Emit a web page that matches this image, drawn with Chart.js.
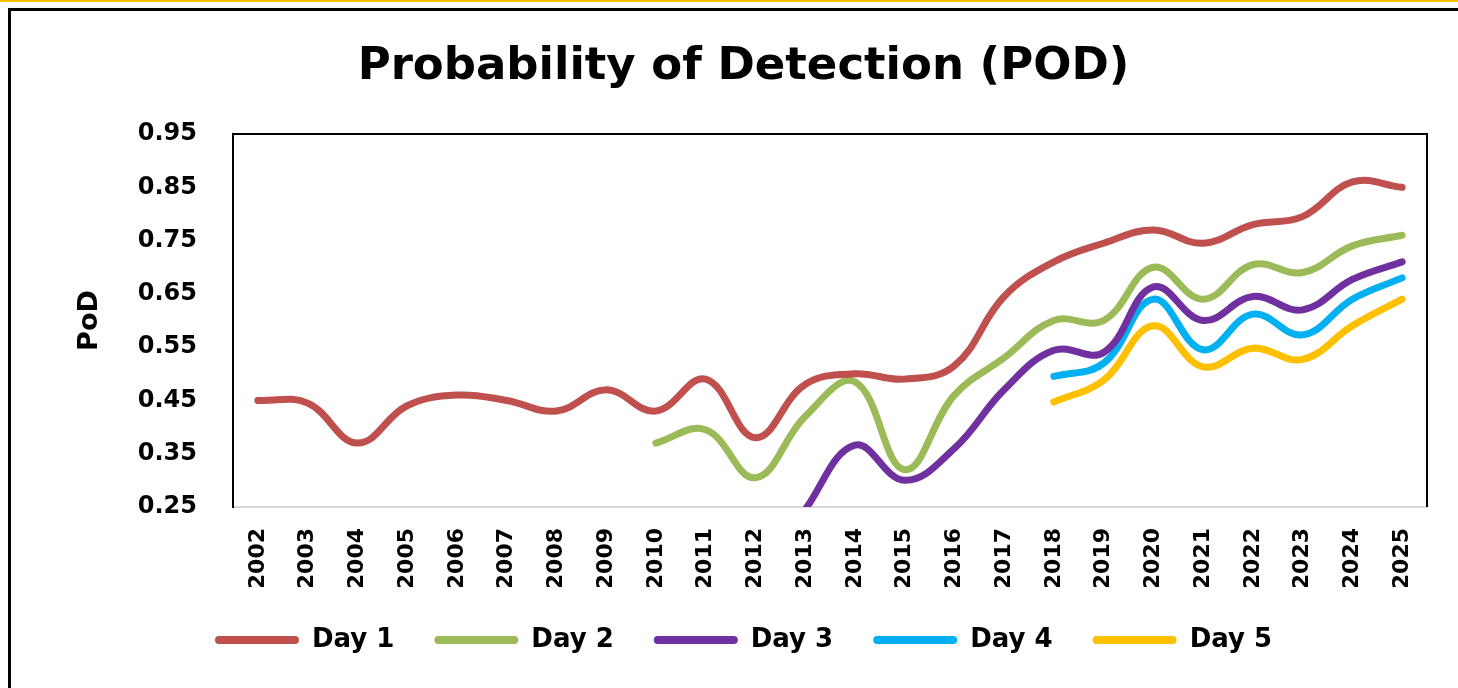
<!DOCTYPE html>
<html>
<head>
<meta charset="utf-8">
<script src="https://cdn.jsdelivr.net/npm/chart.js@4.4.1/dist/chart.umd.min.js"></script>
<style>
  html, body { margin: 0; padding: 0; background: #fff; }
  body { width: 1458px; height: 688px; position: relative; overflow: hidden; }
  #topline { position: absolute; left: 0; top: 0; width: 1458px; height: 2px; background: #f5c400; }
  #frame {
    position: absolute; left: 8px; top: 8px; width: 1460px; height: 677px;
    border-left: 3px solid #000; border-top: 3px solid #000; border-bottom: 2px solid #cfcfcf;
  }
  #pod-chart { position: absolute; left: 0; top: 0; }
</style>
</head>
<body>
<div id="topline"></div>
<div id="frame"></div>
<canvas id="pod-chart" width="1458" height="688"></canvas>
<script>
const years = ["2002", "2003", "2004", "2005", "2006", "2007", "2008", "2009", "2010", "2011", "2012", "2013",
  "2014", "2015", "2016", "2017", "2018", "2019", "2020", "2021", "2022", "2023", "2024", "2025"];

const day1 = [0.45, 0.445, 0.37, 0.44, 0.46, 0.45, 0.43, 0.47, 0.43, 0.49, 0.38, 0.48,
  0.50, 0.49, 0.515, 0.645, 0.71, 0.745, 0.77, 0.745, 0.78, 0.795, 0.86, 0.85];

const day2 = [null, null, null, null, null, null, null, null, 0.37, 0.395, 0.305, 0.42,
  0.485, 0.32, 0.46, 0.53, 0.60, 0.60, 0.70, 0.64, 0.705, 0.69, 0.74, 0.76];

// 2012 point sits below the axis minimum, only the rising part is visible
const day3 = [null, null, null, null, null, null, null, null, null, null, 0.11, 0.245,
  0.366, 0.30, 0.36, 0.47, 0.544, 0.54, 0.663, 0.60, 0.645, 0.62, 0.677, 0.71];

const day4 = [null, null, null, null, null, null, null, null, null, null, null, null,
  null, null, null, null, 0.495, 0.52, 0.64, 0.545, 0.612, 0.573, 0.64, 0.68];

const day5 = [null, null, null, null, null, null, null, null, null, null, null, null,
  null, null, null, null, 0.447, 0.488, 0.59, 0.513, 0.548, 0.527, 0.59, 0.64];

const yTicks = [0.25, 0.35, 0.45, 0.55, 0.65, 0.75, 0.85, 0.95];

const FONT = "'DejaVu Sans', sans-serif";

function makeSeries(label, data, color) {
  return {
    label: label,
    data: data,
    borderColor: color,
    backgroundColor: color,
    borderWidth: 7,
    borderCapStyle: "round",
    borderJoinStyle: "round",
    tension: 0.4,
    pointRadius: 0,
    pointHoverRadius: 0,
    spanGaps: false,
    fill: false,
  };
}

// top and right edges of the plot box
const plotFrame = {
  id: "plotFrame",
  afterDraw(chart) {
    const { ctx, chartArea: a } = chart;
    ctx.save();
    ctx.strokeStyle = "#000";
    ctx.lineWidth = 2;
    ctx.beginPath();
    ctx.moveTo(a.left, a.top);
    ctx.lineTo(a.right, a.top);
    ctx.lineTo(a.right, a.bottom);
    ctx.stroke();
    ctx.restore();
  },
};

const ctx = document.getElementById("pod-chart").getContext("2d");
new Chart(ctx, {
  type: "line",
  data: {
    labels: years,
    datasets: [
      makeSeries("Day 1", day1, "#c0504d"),
      makeSeries("Day 2", day2, "#9bbb59"),
      makeSeries("Day 3", day3, "#7030a0"),
      makeSeries("Day 4", day4, "#00b0f0"),
      makeSeries("Day 5", day5, "#ffc000"),
    ],
  },
  options: {
    responsive: false,
    animation: false,
    layout: { padding: { left: 60, right: 31, top: 12, bottom: 25 } },
    plugins: {
      title: {
        display: true,
        text: "Probability of Detection (POD)",
        color: "#000",
        font: { family: FONT, size: 45, weight: "bold" },
        padding: { top: 28, bottom: 40 },
      },
      legend: {
        position: "bottom",
        labels: {
          color: "#000",
          font: { family: FONT, size: 26, weight: "bold" },
          boxWidth: 84,
          boxHeight: 8,
          useBorderRadius: true,
          borderRadius: 4,
          padding: 40,
          generateLabels(chart) {
            const items = Chart.defaults.plugins.legend.labels.generateLabels(chart);
            return items.map((it) => ({ ...it, lineWidth: 0 }));
          },
        },
      },
      tooltip: { enabled: false },
    },
    scales: {
      x: {
        offset: true,
        grid: { display: false, drawTicks: false },
        border: { display: true, color: "#d9d9d9", width: 2 },
        ticks: {
          color: "#000",
          font: { family: FONT, size: 22, weight: "bold" },
          minRotation: 90,
          maxRotation: 90,
          autoSkip: false,
          padding: 21,
        },
        afterFit(scale) {
          scale.height = 80;
        },
      },
      y: {
        min: 0.25,
        max: 0.95,
        grid: { display: false, drawTicks: false },
        border: { display: true, color: "#000", width: 2 },
        afterBuildTicks(scale) {
          scale.ticks = yTicks.map((v) => ({ value: v }));
        },
        ticks: {
          color: "#000",
          font: { family: FONT, size: 24, weight: "bold" },
          padding: 36,
          callback: (v) => v.toFixed(2),
        },
        title: {
          display: true,
          text: "PoD",
          color: "#000",
          font: { family: FONT, size: 27, weight: "bold" },
          padding: { top: 14, bottom: 0 },
        },
        afterFit(scale) {
          scale.width = 173;
        },
      },
    },
  },
  plugins: [plotFrame],
});
</script>
</body>
</html>
